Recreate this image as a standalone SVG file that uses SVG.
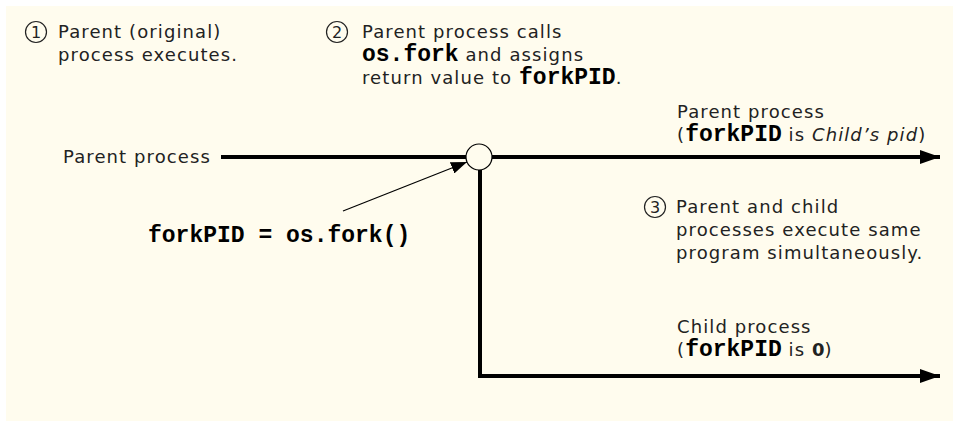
<svg xmlns="http://www.w3.org/2000/svg" width="953" height="421" viewBox="0 0 953 421">
<style>
.bg{fill:#FFFCEE}
.t{font-family:"DejaVu Sans","Liberation Sans",sans-serif;font-size:18px;letter-spacing:1.1px;fill:#222}
.m{font-family:"Liberation Mono","DejaVu Sans Mono",monospace;font-size:23px;font-weight:bold;letter-spacing:0;fill:#000}
.b{font-family:"DejaVu Sans","Liberation Sans",sans-serif;font-weight:bold;letter-spacing:0}
.i{font-style:italic}
.step{fill:none;stroke:#222;stroke-width:1.2}
.num{font-family:"DejaVu Sans","Liberation Sans",sans-serif;font-size:16px;fill:#222;text-anchor:middle}
.thick{stroke:#000;stroke-width:4;fill:none}
.thin{stroke:#000;stroke-width:1.2;fill:none}
</style>
<defs>
<marker id="ah" markerUnits="userSpaceOnUse" markerWidth="20" markerHeight="14" refX="20" refY="7" orient="auto">
<path d="M0,0 L20,7 L0,14 Z" fill="#000"/>
</marker>
<marker id="ahs" markerUnits="userSpaceOnUse" markerWidth="16" markerHeight="12" refX="16" refY="6" orient="auto">
<path d="M0,0 L16,6 L0,12 Z" fill="#000"/>
</marker>
</defs>
<rect class="bg" x="6" y="6" width="947" height="415"/>
<g id="connectors">
<line class="thick" x1="221" y1="157" x2="466" y2="157"/>
<line class="thick" x1="492" y1="157" x2="940" y2="157" marker-end="url(#ah)"/>
<line class="thick" x1="480" y1="170" x2="480" y2="378"/>
<line class="thick" x1="478" y1="376" x2="940" y2="376" marker-end="url(#ah)"/>
<line class="thin" x1="343" y1="211" x2="467" y2="162" marker-end="url(#ahs)"/>
</g>
<g id="fork-node">
<circle cx="479" cy="157" r="13" fill="#FFFCEE" stroke="#000" stroke-width="1.2"/>
</g>
<g id="step1">
<circle class="step" cx="36" cy="32" r="10.5"/>
<text class="num" x="36" y="38">1</text>
<text class="t" x="58" y="38">Parent (original)</text>
<text class="t" x="58" y="61">process executes.</text>
</g>
<g id="step2">
<circle class="step" cx="337" cy="32" r="10.5"/>
<text class="num" x="337" y="38">2</text>
<text class="t" x="362" y="38">Parent process calls</text>
<text class="t" x="362" y="61"><tspan class="m">os.fork</tspan> and assigns</text>
<text class="t" x="362" y="84">return value to <tspan class="m">forkPID</tspan>.</text>
</g>
<g id="parent-label">
<text class="t" x="63" y="163">Parent process</text>
</g>
<g id="fork-call">
<text class="m" x="148" y="242">forkPID = os.fork()</text>
</g>
<g id="parent-branch">
<text class="t" x="677" y="118">Parent process</text>
<text class="t" x="677" y="141">(<tspan class="m">forkPID</tspan> is <tspan class="i">Child’s pid</tspan>)</text>
</g>
<g id="step3">
<circle class="step" cx="655" cy="207" r="10.5"/>
<text class="num" x="655" y="213">3</text>
<text class="t" x="676" y="213">Parent and child</text>
<text class="t" x="676" y="236">processes execute same</text>
<text class="t" x="676" y="259">program simultaneously.</text>
</g>
<g id="child-branch">
<text class="t" x="677" y="333">Child process</text>
<text class="t" x="677" y="356">(<tspan class="m">forkPID</tspan> is <tspan class="b">0</tspan>)</text>
</g>
</svg>
